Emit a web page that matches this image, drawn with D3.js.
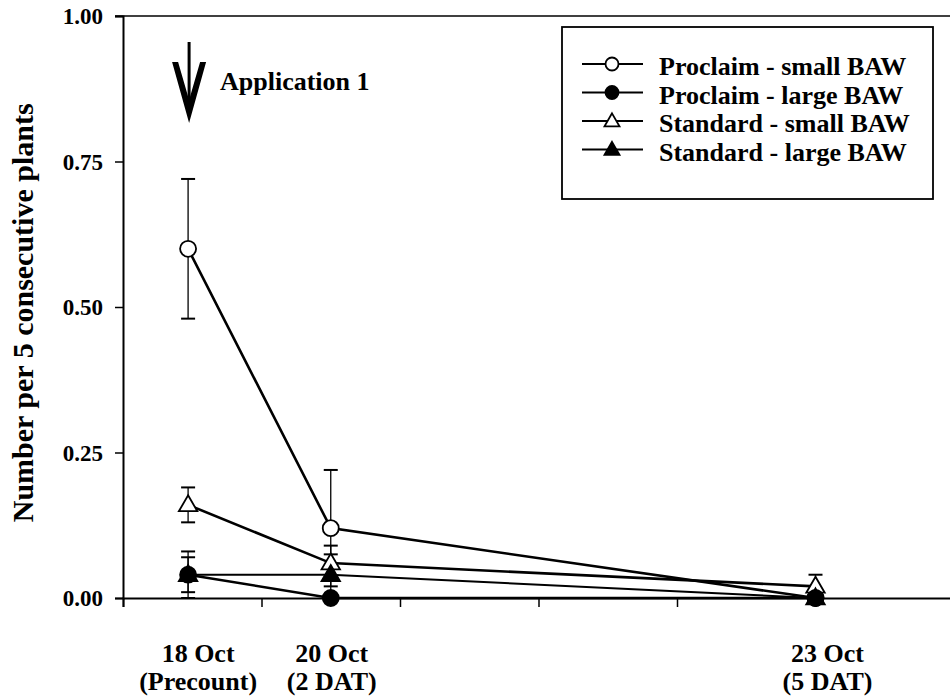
<!DOCTYPE html>
<html>
<head>
<meta charset="utf-8">
<script src="https://cdnjs.cloudflare.com/ajax/libs/d3/7.8.5/d3.min.js"></script>
<style>
  body { margin: 0; background: #fff; }
  text { font-family: "Liberation Serif", "Times New Roman", serif; font-weight: bold; fill: #000; }
</style>
</head>
<body>
<script>
// chart data
var dates = ["18 Oct", "20 Oct", "23 Oct"];
var subLabels = ["(Precount)", "(2 DAT)", "(5 DAT)"];
var datePos = [0.47, 1.5, 5.0];            // position on the x axis, in tick units
var xTicks = [0, 1, 2, 3, 4, 5, 6];
var yTicks = [0, 0.25, 0.5, 0.75, 1.0];

var seriesNames = ["Proclaim - small BAW", "Proclaim - large BAW", "Standard - small BAW", "Standard - large BAW"];
var proclaimSmall = [0.60, 0.12, 0.00];
var proclaimSmallErr = [0.12, 0.10, 0.00];
var proclaimLarge = [0.04, 0.00, 0.00];
var proclaimLargeErr = [0.03, 0.00, 0.00];
var standardSmall = [0.16, 0.06, 0.02];
var standardSmallErr = [0.03, 0.03, 0.02];
var standardLarge = [0.04, 0.04, 0.00];
var standardLargeErr = [0.04, 0.035, 0.00];

window.onload = function() {

    var w = 950, h = 700;
    var svg = d3.select("body").append("svg")
        .attr("width", w)
        .attr("height", h);

    //plot area (right edge runs off the picture)
    var x = d3.scaleLinear().domain([0, 6]).range([123, 954]);
    var y = d3.scaleLinear().domain([0, 1]).range([598, 16]);

    //series table built from the arrays
    var series = [
        {name: seriesNames[0], vals: proclaimSmall, err: proclaimSmallErr, shape: "circle", fill: "#fff", lw: 2.6},
        {name: seriesNames[1], vals: proclaimLarge, err: proclaimLargeErr, shape: "circle", fill: "#000", lw: 2.6},
        {name: seriesNames[2], vals: standardSmall, err: standardSmallErr, shape: "triangle", fill: "#fff", lw: 2.6},
        {name: seriesNames[3], vals: standardLarge, err: standardLargeErr, shape: "triangle", fill: "#000", lw: 2}
    ];
    var drawOrder = [0, 2, 3, 1]; // filled circles end up on top

    //axes
    svg.append("g")
        .attr("transform", "translate(0," + y(0) + ")")
        .call(d3.axisBottom(x).tickValues(xTicks).tickSize(9).tickFormat(""))
        .call(function(g) { g.select(".domain").attr("stroke-width", 2); g.selectAll(".tick line").attr("stroke-width", 1.5); });

    svg.append("g")
        .attr("transform", "translate(" + x(0) + ",0)")
        .call(d3.axisLeft(y).tickValues(yTicks).tickSize(8).tickPadding(12).tickFormat(d3.format(".2f")))
        .call(function(g) {
            g.select(".domain").attr("stroke-width", 2);
            g.selectAll(".tick line").attr("stroke-width", 1.5);
            g.selectAll("text").attr("dy", "0.34em").style("font-size", "23px").style("font-family", "Liberation Serif").style("font-weight", "bold");
        });

    //top frame line
    svg.append("line")
        .attr("x1", x(0) - 8).attr("x2", w)
        .attr("y1", y(1)).attr("y2", y(1))
        .attr("stroke", "#000").attr("stroke-width", 1.5);

    //y axis title
    svg.append("text")
        .attr("transform", "translate(33," + y(0.49) + ") rotate(-90)")
        .attr("text-anchor", "middle")
        .style("font-size", "30px")
        .text("Number per 5 consecutive plants");

    //x category labels (two lines, nudged a little right like the original)
    var labelShift = [10, 1, 12];
    svg.selectAll(".xlab").data(dates).enter().append("text")
        .attr("class", "xlab")
        .attr("text-anchor", "middle")
        .attr("x", function(d, i) { return x(datePos[i]) + labelShift[i]; })
        .attr("y", 662)
        .style("font-size", "26px")
        .text(function(d) { return d; });
    svg.selectAll(".xsub").data(subLabels).enter().append("text")
        .attr("class", "xsub")
        .attr("text-anchor", "middle")
        .attr("x", function(d, i) { return x(datePos[i]) + labelShift[i]; })
        .attr("y", 690)
        .style("font-size", "26px")
        .text(function(d) { return d; });

    //application arrow
    var ax = x(datePos[0]) + 1;
    svg.append("line")
        .attr("x1", ax).attr("x2", ax).attr("y1", 42).attr("y2", 112)
        .attr("stroke", "#000").attr("stroke-width", 3);
    svg.append("path")
        .attr("d", "M" + (ax - 17) + ",62 L" + (ax - 11) + ",62 L" + ax + ",100 L" + (ax + 11) + ",62 L" + (ax + 17) + ",62 L" + ax + ",123 Z")
        .attr("fill", "#000");
    svg.append("text")
        .attr("x", 220).attr("y", 90)
        .style("font-size", "26px")
        .text("Application 1");

    var line = d3.line()
        .x(function(d, i) { return x(datePos[i]); })
        .y(function(d) { return y(d); });

    function drawMarker(sel, s, r) {
        if (s.shape === "circle") {
            sel.append("circle").attr("r", r)
                .attr("fill", s.fill).attr("stroke", "#000").attr("stroke-width", 1.8);
        } else {
            sel.append("path").attr("d", d3.symbol().type(d3.symbolTriangle).size(r * r * 2.3))
                .attr("transform", "translate(0,1)")
                .attr("fill", s.fill).attr("stroke", "#000").attr("stroke-width", 1.8);
        }
    }

    //error bars
    series.forEach(function(s) {
        s.vals.forEach(function(v, i) {
            if (s.err[i] <= 0) return;
            var cx = x(datePos[i]);
            var g = svg.append("g").attr("class", "err");
            g.append("line").attr("x1", cx).attr("x2", cx)
                .attr("y1", y(v + s.err[i])).attr("y2", y(Math.max(0, v - s.err[i])))
                .attr("stroke", "#000").attr("stroke-width", 1.3);
            [v + s.err[i], v - s.err[i]].forEach(function(e) {
                if (e < 0) return;
                g.append("line").attr("x1", cx - 7).attr("x2", cx + 7)
                    .attr("y1", y(e)).attr("y2", y(e))
                    .attr("stroke", "#000").attr("stroke-width", 2);
            });
        });
    });

    //lines first, then markers
    drawOrder.forEach(function(k) {
        var s = series[k];
        svg.append("path")
            .datum(s.vals)
            .attr("d", line)
            .attr("fill", "none")
            .attr("stroke", "#000")
            .attr("stroke-width", s.lw);
    });
    drawOrder.forEach(function(k) {
        var s = series[k];
        svg.selectAll(null).data(s.vals).enter().append("g")
            .attr("transform", function(d, i) { return "translate(" + x(datePos[i]) + "," + y(d) + ")"; })
            .each(function() { drawMarker(d3.select(this), s, 8); });
    });

    //legend
    var lg = svg.append("g").attr("class", "legend");
    lg.append("rect")
        .attr("x", 562).attr("y", 27).attr("width", 371).attr("height", 172)
        .attr("fill", "#fff").attr("stroke", "#000").attr("stroke-width", 1.8);
    var items = lg.selectAll(".item").data(series).enter().append("g")
        .attr("class", "item")
        .attr("transform", function(d, i) { return "translate(0," + (64 + i * 28.5) + ")"; });
    items.append("line")
        .attr("x1", 582).attr("x2", 643)
        .attr("stroke", "#000").attr("stroke-width", 2);
    items.append("g")
        .attr("transform", "translate(612,0)")
        .each(function(d) { drawMarker(d3.select(this), d, 6.5); });
    items.append("text")
        .attr("x", 659).attr("y", 11)
        .style("font-size", "26px")
        .text(function(d) { return d.name; });
};
</script>
</body>
</html>
